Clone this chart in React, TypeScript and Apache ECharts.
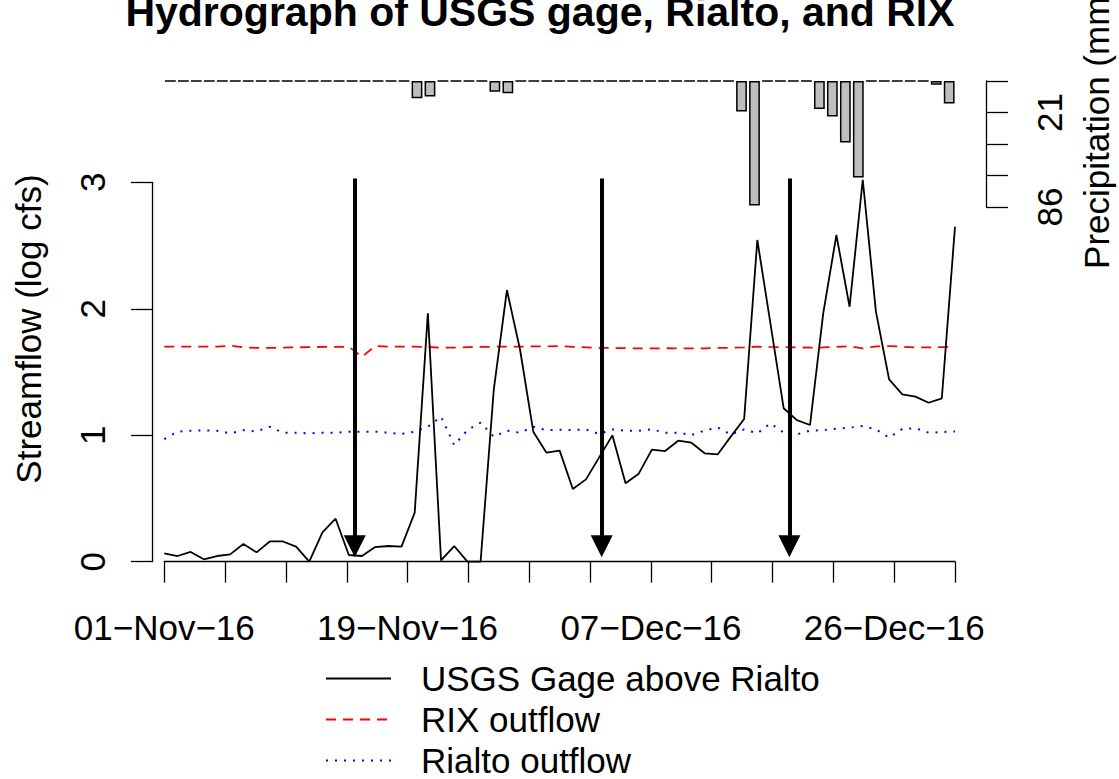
import React, { useEffect, useRef } from "react";
import * as echarts from "echarts";

const FONT = '"Liberation Sans", Arial, Helvetica, sans-serif';

// Series names, tick labels and daily values (01-Nov-16 .. 31-Dec-16)
const seriesNames = ["USGS Gage above Rialto", "RIX outflow", "Rialto outflow"];
const xTickLabels = [
  "01−Nov−16", "", "", "", "19−Nov−16", "", "", "",
  "07−Dec−16", "", "", "", "26−Dec−16", "",
];
const yTickLabels = ["0", "1", "2", "3"];
const precipTickValues = [0, 21.5, 43, 64.5, 86];
const precipTickLabels = ["", "21", "", "", "86"];

const usgsFlow = [
  0.066, 0.045, 0.077, 0.019, 0.045, 0.058, 0.14, 0.074, 0.16, 0.16,
  0.119, 0, 0.232, 0.34, 0.053, 0.045, 0.116, 0.124, 0.119, 0.388,
  1.964, 0.01, 0.124, 0, 0, 1.358, 2.148, 1.674, 1.028, 0.862,
  0.878, 0.575, 0.651, 0.825, 0.999, 0.62, 0.696, 0.886, 0.875, 0.957,
  0.941, 0.857, 0.849, 0.991, 1.128, 2.544, 1.88, 1.213, 1.12, 1.081,
  1.964, 2.583, 2.016, 3.02, 1.977, 1.442, 1.323, 1.305, 1.257, 1.292,
  2.649,
];

const rixOutflow = [
  1.7, 1.7, 1.7, 1.7, 1.7, 1.708, 1.695, 1.69, 1.69, 1.692,
  1.695, 1.697, 1.698, 1.698, 1.7, 1.62, 1.706, 1.7, 1.7, 1.7,
  1.698, 1.692, 1.692, 1.696, 1.698, 1.7, 1.7, 1.7, 1.702, 1.702,
  1.705, 1.698, 1.695, 1.69, 1.69, 1.688, 1.687, 1.687, 1.688, 1.687,
  1.687, 1.687, 1.69, 1.692, 1.695, 1.7, 1.698, 1.697, 1.695, 1.692,
  1.694, 1.698, 1.705, 1.686, 1.702, 1.705, 1.7, 1.695, 1.695, 1.697,
  1.7,
];

const rialtoOutflow = [
  0.97, 1.028, 1.036, 1.038, 1.036, 1.015, 1.04, 1.03, 1.067, 1.02,
  1.02, 1.015, 1.02, 1.02, 1.028, 1.028, 1.028, 1.02, 1.01, 1.028,
  1.067, 1.147, 0.922, 1.04, 1.1, 0.988, 1.036, 1.02, 1.067, 1.04,
  1.044, 1.041, 1.046, 1.01, 1.046, 1.036, 1.036, 1.046, 1.02, 1.02,
  1.002, 1.036, 1.062, 1.005, 1.046, 1.015, 1.094, 1.02, 1.007, 1.036,
  1.041, 1.052, 1.06, 1.073, 1.046, 0.981, 1.05, 1.055, 1.02, 1.025,
  1.03,
];

const precipMm = [
  0, 0, 0, 0, 0, 0, 0, 0, 0, 0,
  0, 0, 0, 0, 0, 0, 0, 0, 0, 11.8,
  10.5, 0, 0, 0, 0, 7.3, 8.4, 0, 0, 0,
  0, 0, 0, 0, 0, 0, 0, 0, 0, 0,
  0, 0, 0, 0, 20.9, 85, 0, 0, 0, 0,
  19.1, 24.3, 41.9, 65.8, 0, 0, 0, 0, 0, 2.5,
  15.3,
];

// Vertical event arrows (day position, from/to streamflow value)
const arrowDays = [14.45, 33.19, 47.43];
const arrowTop = 3.03;
const arrowTip = 0.035;

const AXIS_LINE = { color: "#000", width: 1.3 };

export default function App() {
  const ref = useRef<HTMLDivElement>(null);

  useEffect(() => {
    if (!ref.current) return;
    const chart = echarts.init(ref.current, undefined, { renderer: "svg" });

    const lastDay = usgsFlow.length - 1;
    const xTicks = xTickLabels.map((_, i) => (i * lastDay) / (xTickLabels.length - 1));
    const xLabelTicks = xTicks.filter((_, i) => xTickLabels[i] !== "");
    const mainHeight = 379.4;
    const pxPerUnit = mainHeight / 3;
    const headSize = 22;
    const arrowEnd = arrowTip + headSize / 2 / pxPerUnit;

    const nearestIndex = (arr: number[], v: number) => {
      let best = 0;
      for (let i = 1; i < arr.length; i++) {
        if (Math.abs(arr[i] - v) < Math.abs(arr[best] - v)) best = i;
      }
      return best;
    };

    const axisLabelBase = {
      fontSize: 35,
      lineHeight: 35,
      color: "#000",
      fontFamily: FONT,
    };

    const option: any = {
      animation: false,
      backgroundColor: "#fff",
      textStyle: { fontFamily: FONT },
      grid: [
        { left: 164.3, top: 182.3, width: 790.7, height: mainHeight, outerBoundsMode: "none", containLabel: false },
        { left: 162.8, top: 81, width: 791.8, height: 126, outerBoundsMode: "none", containLabel: false },
      ],
      xAxis: [
        {
          type: "value",
          gridIndex: 0,
          min: 0,
          max: lastDay,
          axisLine: { show: true, onZero: false, lineStyle: AXIS_LINE },
          axisTick: { show: true, customValues: xTicks, length: 21, lineStyle: AXIS_LINE },
          axisLabel: {
            ...axisLabelBase,
            customValues: xLabelTicks,
            margin: 48,
            formatter: (v: number) => xTickLabels[nearestIndex(xTicks, v)],
          },
          splitLine: { show: false },
        },
        {
          type: "value",
          gridIndex: 1,
          min: 0,
          max: precipMm.length * 1.2,
          show: false,
          splitLine: { show: false },
        },
      ],
      yAxis: [
        {
          type: "value",
          gridIndex: 0,
          min: 0,
          max: 3,
          interval: 1,
          position: "left",
          offset: 12.3,
          axisLine: { show: true, onZero: false, lineStyle: AXIS_LINE },
          axisTick: { show: true, length: 21, lineStyle: AXIS_LINE },
          axisLabel: {
            ...axisLabelBase,
            rotate: 90,
            margin: 42,
            formatter: (v: number) => yTickLabels[Math.round(v)] ?? "",
          },
          splitLine: { show: false },
        },
        {
          type: "value",
          gridIndex: 1,
          min: 0,
          max: 86,
          interval: 21.5,
          inverse: true,
          position: "right",
          offset: 31.4,
          axisLine: { show: true, onZero: false, lineStyle: AXIS_LINE },
          axisTick: { show: true, length: 22, lineStyle: AXIS_LINE },
          axisLabel: {
            ...axisLabelBase,
            rotate: 90,
            margin: 46,
            formatter: (v: number) => precipTickLabels[nearestIndex(precipTickValues, v)],
          },
          splitLine: { show: false },
        },
      ],
      legend: {
        orient: "vertical",
        left: 325,
        top: 661,
        height: 200,
        padding: 0,
        itemWidth: 65,
        itemHeight: 30,
        itemGap: 6,
        selectedMode: false,
        data: seriesNames,
        itemStyle: { opacity: 0 },
        textStyle: {
          fontSize: 35,
          lineHeight: 30,
          color: "#000",
          fontFamily: FONT,
          padding: [0, 0, 0, 25],
        },
      },
      graphic: [
        {
          type: "text",
          x: 540,
          y: 12,
          style: {
            text: "Hydrograph of USGS gage, Rialto, and RIX",
            font: `bold 41px ${FONT}`,
            fill: "#000",
            align: "center",
            verticalAlign: "middle",
            textAlign: "center",
            textVerticalAlign: "middle",
          },
        },
        {
          type: "text",
          x: 28,
          y: 329,
          rotation: Math.PI / 2,
          style: {
            text: "Streamflow (log cfs)",
            font: `35px ${FONT}`,
            fill: "#000",
            align: "center",
            verticalAlign: "middle",
            textAlign: "center",
            textVerticalAlign: "middle",
          },
        },
        {
          type: "text",
          x: 1096,
          y: 127,
          rotation: Math.PI / 2,
          style: {
            text: "Precipitation (mm)",
            font: `35px ${FONT}`,
            fill: "#000",
            align: "center",
            verticalAlign: "middle",
            textAlign: "center",
            textVerticalAlign: "middle",
          },
        },
      ],
      series: [
        {
          name: seriesNames[0],
          type: "line",
          xAxisIndex: 0,
          yAxisIndex: 0,
          data: usgsFlow.map((v, i) => [i, v]),
          symbol: "none",
          clip: false,
          z: 3,
          itemStyle: { color: "#000" },
          lineStyle: { color: "#000", width: 1.8 },
          emphasis: { disabled: true },
        },
        {
          name: seriesNames[1],
          type: "line",
          xAxisIndex: 0,
          yAxisIndex: 0,
          data: rixOutflow.map((v, i) => [i, v]),
          symbol: "none",
          clip: false,
          z: 2,
          itemStyle: { color: "#ff0000" },
          lineStyle: { color: "#ff0000", width: 1.8, type: [10, 7] },
          emphasis: { disabled: true },
        },
        {
          name: seriesNames[2],
          type: "line",
          xAxisIndex: 0,
          yAxisIndex: 0,
          data: rialtoOutflow.map((v, i) => [i, v]),
          symbol: "none",
          clip: false,
          z: 2,
          itemStyle: { color: "#0000ff" },
          lineStyle: { color: "#0000ff", width: 2, type: [2, 7] },
          emphasis: { disabled: true },
        },
        {
          name: "Precipitation",
          type: "bar",
          xAxisIndex: 1,
          yAxisIndex: 1,
          data: precipMm.map((v, k) => [0.7 + 1.2 * k, v]),
          barWidth: 10.8,
          z: 1,
          itemStyle: { color: "#bebebe", borderColor: "#000", borderWidth: 1.5 },
          emphasis: { disabled: true },
        },
        {
          name: "Events",
          type: "lines",
          coordinateSystem: "cartesian2d",
          xAxisIndex: 0,
          yAxisIndex: 0,
          clip: false,
          silent: true,
          z: 4,
          symbol: ["none", "triangle"],
          symbolSize: headSize,
          lineStyle: { color: "#000", width: 4, opacity: 1, curveness: 0 },
          data: arrowDays.map((d) => ({
            coords: [
              [d, arrowTop],
              [d, arrowEnd],
            ],
          })),
        },
      ],
    };

    chart.setOption(option);
    return () => chart.dispose();
  }, []);

  return (
    <div
      ref={ref}
      style={{ position: "absolute", left: 0, top: 0, width: 1119, height: 779 }}
    />
  );
}
